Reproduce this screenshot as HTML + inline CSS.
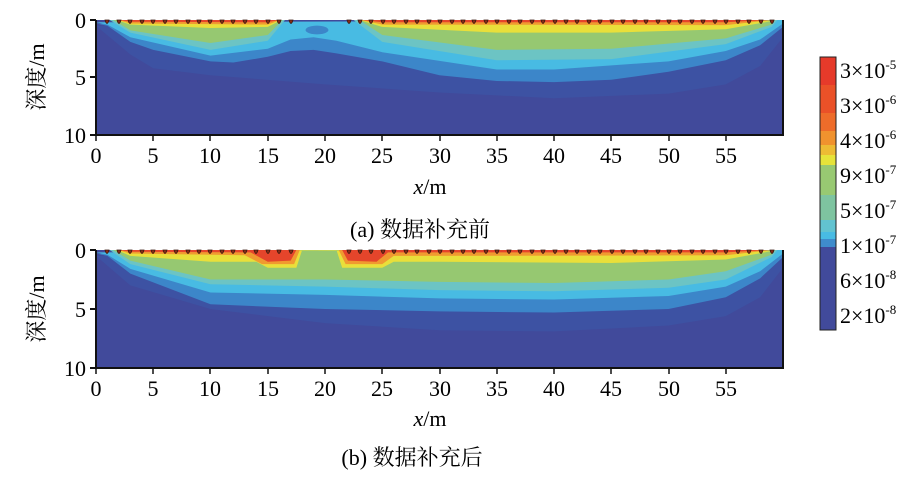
<!DOCTYPE html>
<html><head><meta charset="utf-8"><style>
body{margin:0;background:#fff;width:921px;height:472px;overflow:hidden;font-family:"Liberation Serif","Noto Serif CJK SC",serif;}
</style></head><body>
<svg width="921" height="472" xmlns="http://www.w3.org/2000/svg" font-family="Liberation Serif, Noto Serif CJK SC, serif">
<defs>
<g id="top">
<rect x="0" y="0" width="60" height="10" fill="#414a9b"/>
<path d="M0,0.5 L3,3 5,4.2 10,4.8 20,5.6 30,6.3 40,6.8 50,6.4 55,5.6 58,4 60,1.5 60,0Z" fill="#3d52a3"/>
<path d="M0,0.3 L1,0.5 3,1.9 5,2.6 10,3.6 12,3.7 15,3.2 17,2.7 19,2.6 21,2.9 25,3.6 30,4.8 35,5.3 40,5.4 45,5.2 50,4.5 55,3.5 58,2.2 60,0.6 60,0Z" fill="#3c86c9"/>
<path d="M0,0.2 L1,0.4 3,1.5 10,3.1 15,2.5 17,1.7 19,1.5 21,1.8 25,2.8 35,4.3 40,4.3 50,3.6 55,2.7 58,1.7 60,0.3 60,0Z" fill="#48bbe3"/>
<path d="M1.2,0 L3,1.1 10,2.6 15,1.8 16.5,0Z M22.5,0 L25,1.9 35,3.5 45,3.4 55,2.1 59,0.6 59.5,0Z" fill="#6cc4c4"/>
<path d="M1.5,0 L3,0.9 10,2.0 15,1.3 16.3,0Z M23,0 L25,1.3 35,2.6 45,2.5 55,1.6 59,0.4 59.3,0Z" fill="#96c871"/>
<path d="M1.8,0 L3,0.4 10,0.7 15,0.6 16.2,0Z M23,0 L25,0.6 35,1.1 45,1.1 55,0.8 59,0.1Z" fill="#e9df3a"/>
<path d="M1.9,0 L3,0.3 15,0.4 16.1,0Z M23.1,0 L25,0.4 55,0.45 59,0Z" fill="#f09a30"/>
<path d="M2,0 L3,0.15 15,0.2 16,0Z M23.2,0 L25,0.2 55,0.2 58.8,0Z" fill="#e5452b"/>
<ellipse cx="19.3" cy="0.87" rx="1.0" ry="0.38" fill="#3c86c9"/>
</g>
<g id="bot">
<rect x="0" y="0" width="60" height="10" fill="#414a9b"/>
<path d="M0,0.5 L3,3 10,5 20,6.2 30,6.8 40,6.9 50,6.4 55,5.6 58,4 60,1.5 60,0Z" fill="#3d52a3"/>
<path d="M0,0.3 L1,0.5 3,2.0 10,4.6 20,5.0 30,5.2 40,5.3 50,5.0 55,4.0 58,2.4 60,0.6 60,0Z" fill="#3c86c9"/>
<path d="M0,0.2 L1,0.4 3,1.6 10,3.6 20,3.8 30,4.1 40,4.2 50,3.9 55,3.1 58,1.8 60,0.3 60,0Z" fill="#48bbe3"/>
<path d="M1.2,0 L3,1.2 10,2.9 20,3.1 30,3.4 40,3.5 50,3.2 55,2.5 59,0.6 59.5,0Z" fill="#6cc4c4"/>
<path d="M1.5,0 L3,0.9 10,2.5 20,2.5 30,2.7 40,2.8 50,2.5 55,1.8 59,0.4 59.3,0Z" fill="#96c871"/>
<path d="M1.8,0 L3,0.5 10,1.0 14,1.0 15,1.5 17.5,1.5 18,0 21,0 21.5,1.5 25,1.5 26,1.0 30,1.0 45,1.1 55,0.8 59,0.1Z" fill="#e9df3a"/>
<path d="M1.9,0 L3,0.3 13,0.45 14.5,1.2 17.3,1.2 17.8,0Z M21.2,0 L21.8,1.2 25,1.2 26,0.5 55,0.45 59,0Z" fill="#f09a30"/>
<path d="M2,0 L3,0.15 13.5,0.2 15,1.0 17,0.9 17.5,0Z M21.5,0 L22,0.9 24.5,1.0 25.5,0.2 55,0.2 58.8,0Z" fill="#e5452b"/>
</g>
<path id="mk" d="M-2,0 Q0,7 2,0 Z" fill="#8a2a15" stroke="#3a1a10" stroke-width="0.8"/>
</defs>
<svg x="96" y="20" width="687" height="115" viewBox="0 0 60 10" preserveAspectRatio="none"><use href="#top"/></svg>
<svg x="96" y="250" width="687" height="118" viewBox="0 0 60 10" preserveAspectRatio="none"><use href="#bot"/></svg>
<g>
<use href="#mk" x="107" y="20"/><use href="#mk" x="119" y="20"/><use href="#mk" x="130" y="20"/><use href="#mk" x="142" y="20"/><use href="#mk" x="153" y="20"/><use href="#mk" x="165" y="20"/><use href="#mk" x="176" y="20"/><use href="#mk" x="188" y="20"/><use href="#mk" x="199" y="20"/><use href="#mk" x="210" y="20"/><use href="#mk" x="222" y="20"/><use href="#mk" x="233" y="20"/><use href="#mk" x="245" y="20"/><use href="#mk" x="256" y="20"/><use href="#mk" x="268" y="20"/><use href="#mk" x="279" y="20"/><use href="#mk" x="291" y="20"/>
<use href="#mk" x="349" y="20"/><use href="#mk" x="360" y="20"/><use href="#mk" x="371" y="20"/><use href="#mk" x="383" y="20"/><use href="#mk" x="394" y="20"/><use href="#mk" x="406" y="20"/><use href="#mk" x="417" y="20"/><use href="#mk" x="429" y="20"/><use href="#mk" x="440" y="20"/><use href="#mk" x="452" y="20"/><use href="#mk" x="463" y="20"/><use href="#mk" x="474" y="20"/><use href="#mk" x="486" y="20"/><use href="#mk" x="497" y="20"/><use href="#mk" x="509" y="20"/><use href="#mk" x="520" y="20"/><use href="#mk" x="532" y="20"/><use href="#mk" x="543" y="20"/><use href="#mk" x="555" y="20"/><use href="#mk" x="566" y="20"/><use href="#mk" x="577" y="20"/><use href="#mk" x="589" y="20"/><use href="#mk" x="600" y="20"/><use href="#mk" x="612" y="20"/><use href="#mk" x="623" y="20"/><use href="#mk" x="635" y="20"/><use href="#mk" x="646" y="20"/><use href="#mk" x="658" y="20"/><use href="#mk" x="669" y="20"/><use href="#mk" x="680" y="20"/><use href="#mk" x="692" y="20"/><use href="#mk" x="703" y="20"/><use href="#mk" x="715" y="20"/><use href="#mk" x="726" y="20"/><use href="#mk" x="738" y="20"/><use href="#mk" x="749" y="20"/><use href="#mk" x="761" y="20"/><use href="#mk" x="772" y="20"/>
<use href="#mk" x="107" y="250"/><use href="#mk" x="119" y="250"/><use href="#mk" x="130" y="250"/><use href="#mk" x="142" y="250"/><use href="#mk" x="153" y="250"/><use href="#mk" x="165" y="250"/><use href="#mk" x="176" y="250"/><use href="#mk" x="188" y="250"/><use href="#mk" x="199" y="250"/><use href="#mk" x="210" y="250"/><use href="#mk" x="222" y="250"/><use href="#mk" x="233" y="250"/><use href="#mk" x="245" y="250"/><use href="#mk" x="256" y="250"/><use href="#mk" x="268" y="250"/><use href="#mk" x="279" y="250"/><use href="#mk" x="291" y="250"/>
<use href="#mk" x="349" y="250"/><use href="#mk" x="360" y="250"/><use href="#mk" x="371" y="250"/><use href="#mk" x="383" y="250"/><use href="#mk" x="394" y="250"/><use href="#mk" x="406" y="250"/><use href="#mk" x="417" y="250"/><use href="#mk" x="429" y="250"/><use href="#mk" x="440" y="250"/><use href="#mk" x="452" y="250"/><use href="#mk" x="463" y="250"/><use href="#mk" x="474" y="250"/><use href="#mk" x="486" y="250"/><use href="#mk" x="497" y="250"/><use href="#mk" x="509" y="250"/><use href="#mk" x="520" y="250"/><use href="#mk" x="532" y="250"/><use href="#mk" x="543" y="250"/><use href="#mk" x="555" y="250"/><use href="#mk" x="566" y="250"/><use href="#mk" x="577" y="250"/><use href="#mk" x="589" y="250"/><use href="#mk" x="600" y="250"/><use href="#mk" x="612" y="250"/><use href="#mk" x="623" y="250"/><use href="#mk" x="635" y="250"/><use href="#mk" x="646" y="250"/><use href="#mk" x="658" y="250"/><use href="#mk" x="669" y="250"/><use href="#mk" x="680" y="250"/><use href="#mk" x="692" y="250"/><use href="#mk" x="703" y="250"/><use href="#mk" x="715" y="250"/><use href="#mk" x="726" y="250"/><use href="#mk" x="738" y="250"/><use href="#mk" x="749" y="250"/><use href="#mk" x="761" y="250"/><use href="#mk" x="772" y="250"/>
</g>
<g stroke="#111" stroke-width="2" fill="none">
<path d="M96,20 V135 H783 V20"/>
<path d="M96,250 V368 H783 V250"/>
<path d="M90,20 H96 M90,77 H96 M90,135 H96 M90,250 H96 M90,309 H96 M90,368 H96"/>
</g>
<g stroke="#111" stroke-width="1.5">
<path d="M96,135v6 M153,135v6 M210,135v6 M268,135v6 M325,135v6 M382,135v6 M440,135v6 M497,135v6 M554,135v6 M611,135v6 M669,135v6 M726,135v6"/>
<path d="M96,368v6 M153,368v6 M210,368v6 M268,368v6 M325,368v6 M382,368v6 M440,368v6 M497,368v6 M554,368v6 M611,368v6 M669,368v6 M726,368v6"/>
</g>
<g font-size="22" fill="#000" text-anchor="end">
<text x="86" y="28">0</text><text x="86" y="85">5</text><text x="86" y="143">10</text>
<text x="86" y="258">0</text><text x="86" y="317">5</text><text x="86" y="376">10</text>
</g>
<g font-size="22" fill="#000" text-anchor="middle">
<text x="96" y="163">0</text><text x="153" y="163">5</text><text x="210" y="163">10</text><text x="268" y="163">15</text><text x="325" y="163">20</text><text x="382" y="163">25</text><text x="440" y="163">30</text><text x="497" y="163">35</text><text x="554" y="163">40</text><text x="611" y="163">45</text><text x="669" y="163">50</text><text x="726" y="163">55</text>
<text x="96" y="396">0</text><text x="153" y="396">5</text><text x="210" y="396">10</text><text x="268" y="396">15</text><text x="325" y="396">20</text><text x="382" y="396">25</text><text x="440" y="396">30</text><text x="497" y="396">35</text><text x="554" y="396">40</text><text x="611" y="396">45</text><text x="669" y="396">50</text><text x="726" y="396">55</text>
<text x="430" y="194"><tspan font-style="italic">x</tspan>/m</text>
<text x="420" y="237">(a) 数据补充前</text>
<text x="430" y="426"><tspan font-style="italic">x</tspan>/m</text>
<text x="412" y="465">(b) 数据补充后</text>
<text transform="translate(44,77) rotate(-90)">深度/m</text>
<text transform="translate(44,309) rotate(-90)">深度/m</text>
</g>
<g>
<rect x="820" y="57" width="16" height="28" fill="#e63a2a"/>
<rect x="820" y="85" width="16" height="28" fill="#ea5128"/>
<rect x="820" y="113" width="16" height="18" fill="#ee6c2a"/>
<rect x="820" y="131" width="16" height="14" fill="#f0922e"/>
<rect x="820" y="145" width="16" height="10" fill="#edbb34"/>
<rect x="820" y="155" width="16" height="10" fill="#e6e33a"/>
<rect x="820" y="165" width="16" height="30" fill="#98c972"/>
<rect x="820" y="195" width="16" height="25" fill="#7ec4a0"/>
<rect x="820" y="220" width="16" height="12" fill="#62c3d0"/>
<rect x="820" y="232" width="16" height="7" fill="#48bbe3"/>
<rect x="820" y="239" width="16" height="8" fill="#3f8ccc"/>
<rect x="820" y="247" width="16" height="83" fill="#414a9b"/>
<rect x="820" y="57" width="16" height="273" fill="none" stroke="#222" stroke-width="1"/>
</g>
<g font-size="22" fill="#000">
<text x="840" y="78">3×10<tspan font-size="13" dy="-9">-5</tspan></text>
<text x="840" y="113">3×10<tspan font-size="13" dy="-9">-6</tspan></text>
<text x="840" y="148">4×10<tspan font-size="13" dy="-9">-6</tspan></text>
<text x="840" y="183">9×10<tspan font-size="13" dy="-9">-7</tspan></text>
<text x="840" y="218">5×10<tspan font-size="13" dy="-9">-7</tspan></text>
<text x="840" y="253">1×10<tspan font-size="13" dy="-9">-7</tspan></text>
<text x="840" y="288">6×10<tspan font-size="13" dy="-9">-8</tspan></text>
<text x="840" y="323">2×10<tspan font-size="13" dy="-9">-8</tspan></text>
</g>
</svg>
</body></html>
